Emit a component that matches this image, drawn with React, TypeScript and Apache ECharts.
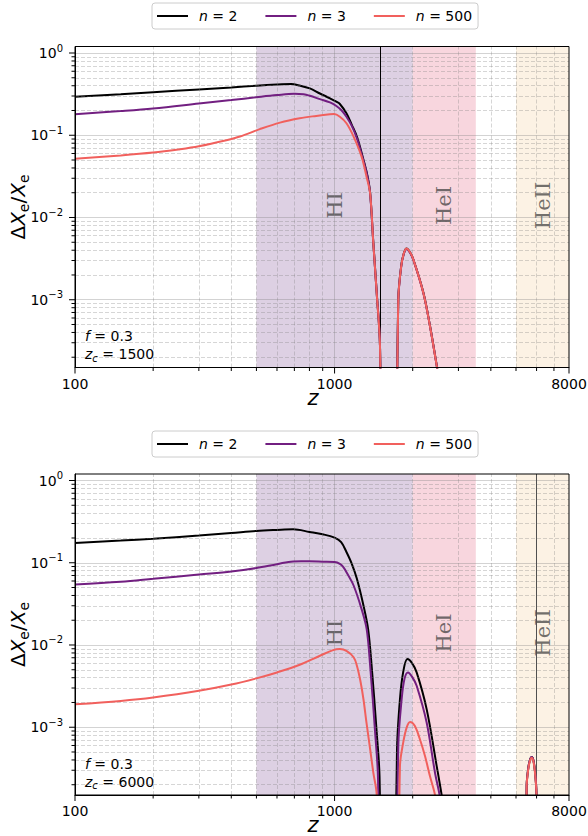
import React, { useEffect, useRef } from 'react';
import * as echarts from 'echarts';

// ---- axis ranges -------------------------------------------------------
const Z_MIN = 100;
const Z_MAX = 8000;
const Y_MIN = 1.5e-4;
const Y_MAX = 1.2;

// ---- labels / parameters ------------------------------------------------
const SERIES_NAMES = ['n = 2', 'n = 3', 'n = 500'];
const Z_C = [1500, 6000];
const F_VALUE = 0.3;

const REGION_NAMES = ['HI', 'HeI', 'HeII'];
const REGION_START = [500, 2000, 5000];
const REGION_END = [2000, 3500, 8000];
const REGION_LABEL_Y = 0.014;

const X_TICK_LABELS = [100, 1000, 8000];
const X_MAJOR_GRID = [1000];
const X_MINOR_TICKS = [200, 300, 400, 500, 600, 700, 800, 900, 2000, 3000, 4000, 5000, 6000, 7000];
const Y_MAJOR_TICKS = [1e-3, 1e-2, 1e-1, 1];
const Y_MINOR_TICKS = [
  2e-4, 3e-4, 4e-4, 5e-4, 6e-4, 7e-4, 8e-4, 9e-4,
  2e-3, 3e-3, 4e-3, 5e-3, 6e-3, 7e-3, 8e-3, 9e-3,
  2e-2, 3e-2, 4e-2, 5e-2, 6e-2, 7e-2, 8e-2, 9e-2,
  0.2, 0.3, 0.4, 0.5, 0.6, 0.7, 0.8, 0.9,
];

type Pt = [number, number | null];

// ---- z_c = 1500 ---------------------------------------------------------
const TOP_N2: Pt[] = [
  [100, 0.294], [150, 0.316], [200, 0.334], [300, 0.36], [400, 0.381], [500, 0.401],
  [600, 0.414], [680, 0.419], [734, 0.402], [803, 0.371], [878, 0.322], [960, 0.281],
  [1016, 0.256], [1048, 0.24], [1111, 0.185], [1165, 0.134], [1219, 0.0964],
  [1292, 0.0504], [1340, 0.0316], [1371, 0.0199], [1410, 4.96e-3], [1453, 1.23e-3],
  [1496, 2.79e-4], [1520, 1e-6], [1600, null],
  [1722, 1e-6], [1760, 1.02e-3], [1806, 2.58e-3], [1850, 3.7e-3], [1895, 4.2e-3],
  [1950, 3.8e-3], [2010, 3.11e-3], [2197, 1.23e-3], [2330, 4.86e-4], [2474, 1.6e-4],
  [2600, 6e-5],
];
const TOP_N3: Pt[] = [
  [100, 0.18], [150, 0.197], [200, 0.212], [300, 0.243], [400, 0.268], [500, 0.29],
  [600, 0.308], [700, 0.319], [760, 0.315], [803, 0.302], [878, 0.275], [960, 0.251],
  [1016, 0.227], [1065, 0.2], [1111, 0.168], [1165, 0.13], [1219, 0.092], [1292, 0.049],
  [1340, 0.031], [1371, 0.0195], [1410, 4.9e-3], [1453, 1.21e-3], [1496, 2.75e-4],
  [1520, 1e-6], [1600, null],
  [1724, 1e-6], [1760, 1.0e-3], [1806, 2.55e-3], [1850, 3.65e-3], [1895, 4.15e-3],
  [1950, 3.75e-3], [2010, 3.07e-3], [2197, 1.21e-3], [2330, 4.8e-4], [2474, 1.58e-4],
  [2600, 6e-5],
];
const TOP_N500: Pt[] = [
  [100, 0.0518], [150, 0.0568], [200, 0.0615], [250, 0.0672], [300, 0.0735], [383, 0.087],
  [432, 0.0964], [515, 0.1186], [616, 0.1425], [734, 0.161], [850, 0.172], [960, 0.18],
  [995, 0.181], [1048, 0.168], [1111, 0.14], [1184, 0.0964], [1270, 0.0553],
  [1327, 0.0316], [1371, 0.0195], [1410, 4.9e-3], [1453, 1.2e-3], [1496, 2.7e-4],
  [1520, 1e-6], [1600, null],
  [1726, 1e-6], [1760, 1.0e-3], [1806, 2.55e-3], [1850, 3.7e-3], [1895, 4.2e-3],
  [1950, 3.8e-3], [2010, 3.1e-3], [2197, 1.22e-3], [2330, 4.8e-4], [2474, 1.58e-4],
  [2600, 6e-5],
];

// ---- z_c = 6000 ---------------------------------------------------------
const BOT_N2: Pt[] = [
  [100, 0.174], [150, 0.186], [200, 0.196], [300, 0.214], [400, 0.23], [500, 0.244],
  [600, 0.251], [693, 0.255], [801, 0.237], [900, 0.222], [1000, 0.202], [1060, 0.178],
  [1111, 0.135], [1165, 0.097], [1219, 0.0638], [1292, 0.0302], [1346, 0.0157],
  [1389, 5.6e-3], [1453, 8.6e-4], [1490, 2.5e-4], [1519, 1e-6], [1600, null],
  [1700, 1e-6], [1740, 5.4e-4], [1786, 2.19e-3], [1837, 4.64e-3], [1908, 6.75e-3],
  [1982, 6.1e-3], [2071, 4.64e-3], [2263, 1.66e-3], [2474, 3.37e-4], [2585, 1.5e-4],
  [2700, 6e-5], [3000, null],
  [5430, 1e-6], [5495, 1.95e-4], [5576, 3.2e-4], [5658, 4.0e-4], [5743, 4.35e-4],
  [5830, 4.0e-4], [5916, 2.9e-4], [5995, 1.55e-4], [6030, 1e-6],
];
const BOT_N3: Pt[] = [
  [100, 0.0544], [150, 0.0587], [200, 0.0638], [300, 0.072], [400, 0.0783], [500, 0.0862],
  [600, 0.096], [693, 0.1038], [800, 0.104], [900, 0.103], [1000, 0.102], [1048, 0.097],
  [1081, 0.0886], [1130, 0.07], [1184, 0.0529], [1270, 0.0275], [1329, 0.0157],
  [1371, 5.6e-3], [1433, 8.6e-4], [1470, 2.4e-4], [1495, 1e-6], [1600, null],
  [1725, 1e-6], [1760, 6e-4], [1813, 2.19e-3], [1860, 3.9e-3], [1918, 4.64e-3],
  [1990, 4.1e-3], [2071, 3.19e-3], [2263, 1.14e-3], [2437, 2.8e-4], [2538, 1.5e-4],
  [2650, 6e-5], [3000, null],
  [5430, 1e-6], [5495, 1.95e-4], [5576, 3.2e-4], [5658, 4.0e-4], [5743, 4.35e-4],
  [5830, 4.0e-4], [5916, 2.9e-4], [5995, 1.55e-4], [6030, 1e-6],
];
const BOT_N500: Pt[] = [
  [100, 1.9e-3], [150, 2.09e-3], [200, 2.3e-3], [300, 2.77e-3], [400, 3.3e-3],
  [500, 3.93e-3], [600, 4.64e-3], [734, 5.75e-3], [878, 7.4e-3], [980, 8.6e-3],
  [1048, 8.94e-3], [1111, 8.5e-3], [1184, 7.1e-3], [1219, 5.6e-3], [1257, 3.67e-3],
  [1292, 2.19e-3], [1327, 1.14e-3], [1371, 5.4e-4], [1410, 2.8e-4], [1453, 1.5e-4],
  [1475, 1e-6], [1600, null],
  [1755, 1e-6], [1786, 3.37e-4], [1838, 6.5e-4], [1895, 9.9e-4], [1953, 1.16e-3],
  [2036, 1.04e-3], [2133, 7.1e-4], [2230, 4.47e-4], [2330, 2.55e-4], [2437, 1.5e-4],
  [2550, 6e-5], [3000, null],
  [5430, 1e-6], [5495, 1.9e-4], [5576, 3.1e-4], [5658, 3.9e-4], [5743, 4.27e-4],
  [5830, 3.9e-4], [5916, 2.8e-4], [5995, 1.5e-4], [6030, 1e-6],
];

const PANEL_DATA = [
  [TOP_N2, TOP_N3, TOP_N500],
  [BOT_N2, BOT_N3, BOT_N500],
];

// ---- styling ------------------------------------------------------------
const FONT = 'DejaVu Sans';
const SERIF = 'DejaVu Serif';
const LINE_COLORS = ['#000000', '#721f81', '#f1605d'];
const REGION_COLORS = ['#ddd0e3', '#f8d6de', '#fcf2e4'];
const ZC_LINE_COLORS = ['#000000', '#505050'];
const PANEL_LEFT = 75;
const PANEL_WIDTH = 494;
const PANEL_HEIGHT = 321;
const PANEL_TOP = [46.5, 474];
const LEGEND_TOP = [3, 431];

const MAJOR_GRID_STYLE = { color: 'rgba(128,128,128,0.35)', width: 1, type: 'solid' };
const MINOR_GRID_STYLE = { color: 'rgba(128,128,128,0.32)', width: 1, type: [4, 2] };

const TICK_RICH = {
  b: { fontSize: 14, fontFamily: FONT, color: '#000', lineHeight: 20, verticalAlign: 'middle' },
  s: { fontSize: 10, fontFamily: FONT, color: '#000', lineHeight: 12, verticalAlign: 'top' },
};

const YLABEL_RICH = {
  t: { fontSize: 20, fontFamily: FONT, fill: '#000', lineHeight: 26, verticalAlign: 'middle' },
  i: { fontSize: 20, fontFamily: FONT, fontStyle: 'italic', fill: '#000', lineHeight: 26, verticalAlign: 'middle' },
  s: { fontSize: 14, fontFamily: FONT, fill: '#000', lineHeight: 16, verticalAlign: 'bottom' },
};

const ANNOT_RICH = {
  t: { fontSize: 14, fontFamily: FONT, fill: '#000', lineHeight: 18, verticalAlign: 'middle' },
  i: { fontSize: 14, fontFamily: FONT, fontStyle: 'italic', fill: '#000', lineHeight: 18, verticalAlign: 'middle' },
  s: { fontSize: 10, fontFamily: FONT, fontStyle: 'italic', fill: '#000', lineHeight: 12, verticalAlign: 'bottom' },
};

function yTickLabel(v: number): string {
  const e = Math.log10(v);
  const r = Math.round(e);
  if (Math.abs(e - r) > 1e-6) return '';
  return `{b|10}{s|${r < 0 ? '\u2212' + -r : r}}`;
}

function xTickLabel(v: number): string {
  const hit = X_TICK_LABELS.find((t) => Math.abs(t - v) / t < 1e-6);
  return hit ? String(hit) : '';
}

function panelSeries(gi: number): any[] {
  const axes = { xAxisIndex: gi, yAxisIndex: gi };
  const out: any[] = [];

  // shaded recombination eras
  out.push({
    ...axes,
    type: 'line',
    data: [],
    z: 1,
    silent: true,
    markArea: {
      silent: true,
      data: REGION_NAMES.map((_, i) => [
        { xAxis: REGION_START[i], itemStyle: { color: REGION_COLORS[i] } },
        { xAxis: REGION_END[i] },
      ]),
    },
  });

  // major and minor grid lines
  out.push({
    ...axes,
    type: 'line',
    data: [],
    z: 2,
    silent: true,
    markLine: {
      silent: true,
      precision: 12,
      symbol: ['none', 'none'],
      label: { show: false },
      emphasis: { disabled: true },
      data: [
        ...X_MINOR_TICKS.map((v) => ({ xAxis: v, lineStyle: MINOR_GRID_STYLE })),
        ...Y_MINOR_TICKS.map((v) => ({ yAxis: v, lineStyle: MINOR_GRID_STYLE })),
        ...X_MAJOR_GRID.map((v) => ({ xAxis: v, lineStyle: MAJOR_GRID_STYLE })),
        ...Y_MAJOR_TICKS.map((v) => ({ yAxis: v, lineStyle: MAJOR_GRID_STYLE })),
      ],
    },
  });

  // tick marks on the bottom axis
  out.push({
    ...axes,
    type: 'custom',
    z: 10,
    silent: true,
    data: [
      ...X_TICK_LABELS.map((v) => [v, Y_MIN, 6]),
      ...X_MINOR_TICKS.map((v) => [v, Y_MIN, 3.5]),
    ],
    renderItem: (params: any, api: any) => {
      const p = api.coord([api.value(0), api.value(1)]);
      const len = api.value(2);
      return {
        type: 'line',
        shape: { x1: p[0], y1: p[1], x2: p[0], y2: p[1] + len },
        style: { stroke: '#000', lineWidth: 1 },
      };
    },
  });

  // tick marks on the left axis
  out.push({
    ...axes,
    type: 'custom',
    z: 10,
    silent: true,
    data: [
      ...Y_MAJOR_TICKS.map((v) => [Z_MIN, v, 6]),
      ...Y_MINOR_TICKS.map((v) => [Z_MIN, v, 3.5]),
    ],
    renderItem: (params: any, api: any) => {
      const p = api.coord([api.value(0), api.value(1)]);
      const len = api.value(2);
      return {
        type: 'line',
        shape: { x1: p[0] - len, y1: p[1], x2: p[0], y2: p[1] },
        style: { stroke: '#000', lineWidth: 1 },
      };
    },
  });

  // era names, written vertically
  out.push({
    ...axes,
    type: 'custom',
    z: 3,
    silent: true,
    data: REGION_NAMES.map((_, i) => [Math.sqrt(REGION_START[i] * REGION_END[i]), REGION_LABEL_Y]),
    renderItem: (params: any, api: any) => {
      const p = api.coord([api.value(0), api.value(1)]);
      return {
        type: 'text',
        x: p[0],
        y: p[1],
        rotation: Math.PI / 2,
        style: {
          text: REGION_NAMES[params.dataIndex],
          fill: 'rgba(60,60,60,0.72)',
          fontSize: 21,
          fontFamily: SERIF,
          align: 'center',
          verticalAlign: 'middle',
        },
      };
    },
  });

  // curves
  PANEL_DATA[gi].forEach((data, k) => {
    out.push({
      ...axes,
      type: 'line',
      name: SERIES_NAMES[k],
      data,
      z: 4 + k,
      symbol: 'none',
      showSymbol: false,
      smooth: 0.35,
      connectNulls: false,
      clip: true,
      lineStyle: { color: LINE_COLORS[k], width: 2 },
      itemStyle: { color: LINE_COLORS[k] },
      emphasis: { disabled: true },
    });
  });

  // onset redshift z_c
  out.push({
    ...axes,
    type: 'line',
    data: [],
    z: 8,
    silent: true,
    markLine: {
      silent: true,
      precision: 12,
      symbol: ['none', 'none'],
      label: { show: false },
      emphasis: { disabled: true },
      data: [{ xAxis: Z_C[gi], lineStyle: { color: ZC_LINE_COLORS[gi], width: 1, type: 'solid' } }],
    },
  });

  return out;
}

function buildOption(): any {
  const panels = [0, 1];
  return {
    animation: false,
    textStyle: { fontFamily: FONT },
    grid: panels.map((gi) => ({
      left: PANEL_LEFT,
      top: PANEL_TOP[gi],
      width: PANEL_WIDTH,
      height: PANEL_HEIGHT,
      show: true,
      borderColor: '#000',
      borderWidth: 1,
      backgroundColor: 'transparent',
      containLabel: false,
      outerBoundsMode: 'none',
      z: 10,
    })),
    xAxis: panels.map((gi) => ({
      type: 'log',
      logBase: 10,
      gridIndex: gi,
      min: Z_MIN,
      max: Z_MAX,
      z: 10,
      axisLine: { show: true, lineStyle: { color: '#000', width: 1 } },
      axisTick: { show: false },
      splitLine: { show: false },
      axisLabel: {
        formatter: xTickLabel,
        margin: 9,
        color: '#000',
        fontSize: 14,
        fontFamily: FONT,
        showMinLabel: true,
        showMaxLabel: true,
        hideOverlap: false,
      },
    })),
    yAxis: panels.map((gi) => ({
      type: 'log',
      logBase: 10,
      gridIndex: gi,
      min: Y_MIN,
      max: Y_MAX,
      z: 10,
      axisLine: { show: true, lineStyle: { color: '#000', width: 1 } },
      axisTick: { show: false },
      splitLine: { show: false },
      axisLabel: {
        formatter: yTickLabel,
        margin: 12,
        color: '#000',
        fontSize: 14,
        fontFamily: FONT,
        rich: TICK_RICH,
        hideOverlap: false,
      },
    })),
    legend: panels.map((gi) => ({
      data: SERIES_NAMES,
      left: 152,
      top: LEGEND_TOP[gi],
      orient: 'horizontal',
      selectedMode: false,
      icon: 'rect',
      itemWidth: 31,
      itemHeight: 2,
      itemGap: 28,
      padding: [5, 6, 5, 5],
      backgroundColor: '#ffffff',
      borderColor: '#cccccc',
      borderWidth: 1,
      borderRadius: 3,
      formatter: (name: string) => `{i|n}${name.slice(1)}`,
      textStyle: {
        fontSize: 14,
        fontFamily: FONT,
        color: '#000',
        lineHeight: 16,
        padding: [0, 0, 0, 6],
        rich: { i: { fontSize: 14, fontFamily: FONT, fontStyle: 'italic', color: '#000', lineHeight: 16 } },
      },
    })),
    graphic: panels.flatMap((gi) => {
      const top = PANEL_TOP[gi];
      return [
        {
          type: 'text',
          x: 18,
          y: top + PANEL_HEIGHT / 2,
          rotation: Math.PI / 2,
          style: {
            text: '{t|\u0394}{i|X}{s|e}{t|/}{i|X}{s|e}',
            rich: YLABEL_RICH,
            align: 'center',
            verticalAlign: 'middle',
          },
        },
        {
          type: 'text',
          x: 313,
          y: top + PANEL_HEIGHT + 30,
          style: {
            text: 'z',
            fontSize: 21,
            lineHeight: 15,
            fontStyle: 'italic',
            fontFamily: FONT,
            fill: '#000',
            align: 'center',
            verticalAlign: 'middle',
          },
        },
        {
          type: 'text',
          x: 85,
          y: top + 280.5,
          style: {
            text: `{i|f}{t| = ${F_VALUE}}\n{i|z}{s|c}{t| = ${Z_C[gi]}}`,
            rich: ANNOT_RICH,
            align: 'left',
            verticalAlign: 'top',
          },
        },
      ];
    }),
    series: panels.flatMap((gi) => panelSeries(gi)),
  };
}

export default function App() {
  const ref = useRef<HTMLDivElement>(null);
  useEffect(() => {
    if (!ref.current) return;
    const chart = echarts.init(ref.current, undefined, { renderer: 'svg' });
    chart.setOption(buildOption());
    return () => chart.dispose();
  }, []);
  return (
    <div
      ref={ref}
      style={{ position: 'absolute', left: 0, top: 0, width: 588, height: 836, background: '#fff' }}
    />
  );
}
